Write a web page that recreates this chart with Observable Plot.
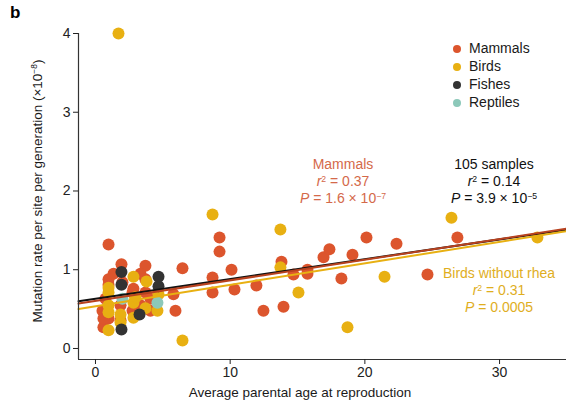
<!DOCTYPE html>
<html><head><meta charset="utf-8">
<script src="https://cdn.jsdelivr.net/npm/d3@7"></script>
<script src="https://cdn.jsdelivr.net/npm/@observablehq/plot@0.6"></script>
<style>
body{margin:0;background:#fff;font-family:"Liberation Sans",Arial,Helvetica,sans-serif;}
#wrap{position:relative;width:566px;height:402px;overflow:hidden;}
#wrap svg{position:absolute;left:0;top:0;}
.ov{position:absolute;white-space:nowrap;color:#1a1a1a;font-size:14px;line-height:17px;}
.ann{text-align:center;transform:translateX(-50%);}
.sup{font-size:0.62em;vertical-align:0.5em;line-height:0;}
.leg div{height:18px;line-height:18px;}
.leg span.d{display:inline-block;width:8px;height:8px;border-radius:50%;margin-right:8px;vertical-align:-0px;}
</style></head><body><div id="wrap"></div>
<script>
// ---- data ----
const groups = ["Mammals", "Birds", "Fishes", "Reptiles"];
const groupColors = ["#DC552D", "#E8B012", "#333333", "#8CC8B9"];

const mammalAge = [0.97,1.93,3.71,3.34,1.34,0.97,2.00,3.71,2.82,2.75,3.71,4.08,0.74,1.86,3.34,2.75,4.08,0.97,1.86,0.59,0.52,5.79,5.94,6.46,0.97,0.59,
  9.21,9.21,10.10,8.69,8.69,10.32,11.95,12.47,13.96,13.81,14.70,15.74,15.74,16.93,17.37,18.26,19.08,20.12,22.35,26.87,24.65];
const mammalRate = [1.32,1.07,1.05,0.95,0.95,0.88,0.84,0.88,0.76,0.71,0.71,0.63,0.63,0.55,0.55,0.48,0.48,0.38,0.36,0.27,0.48,0.69,0.48,1.02,0.81,0.38,
  1.41,1.23,1.00,0.90,0.71,0.75,0.80,0.48,0.53,1.10,0.94,1.00,0.95,1.16,1.26,0.89,1.19,1.41,1.33,1.41,0.94];

const birdAge = [2.82,3.79,0.97,0.97,2.82,2.97,0.97,0.97,1.86,0.97,4.68,3.71,4.60,2.82,1.86,
  1.71,8.69,13.73,13.73,15.07,18.71,21.46,26.43,32.81,6.46];
const birdRate = [0.91,0.85,0.77,0.71,0.58,0.65,0.55,0.46,0.43,0.23,0.69,0.51,0.48,0.39,0.33,
  4.00,1.70,1.51,1.03,0.71,0.27,0.91,1.66,1.41,0.10];

const fishAge = [1.93,1.93,4.68,4.68,3.27,1.93];
const fishRate = [0.97,0.81,0.91,0.79,0.43,0.24];

const reptileAge = [2.00,4.60];
const reptileRate = [0.63,0.58];

// regression lines (end points)
const fitNames = ["105 samples", "Mammals", "Birds without rhea"];
const fitAge = [-1.26, 34.97];
const fitAllRate = [0.60, 1.51];
const fitMammalRate = [0.57, 1.52];
const fitBirdRate = [0.50, 1.49];

const xTicks = [0, 10, 20, 30];
const yTicks = [0, 1, 2, 3, 4];
const xDomain = [-1.26, 34.97];
const yDomain = [-0.14, 4.0];

// ---- build tables ----
const ages = [mammalAge, birdAge, fishAge, reptileAge];
const rates = [mammalRate, birdRate, fishRate, reptileRate];
const points = [];
groups.forEach((g, i) => ages[i].forEach((a, j) => points.push({group: g, age: a, rate: rates[i][j]})));
const fitRates = [fitAllRate, fitMammalRate, fitBirdRate];
const fitColors = ["#111111", "#B8421F", "#E8B012"];
const fits = [];
fitNames.forEach((n, i) => fitAge.forEach((a, j) => fits.push({name: n, age: a, rate: fitRates[i][j]})));

const plot = Plot.plot({
  width: 566, height: 402,
  marginLeft: 78, marginRight: 0, marginTop: 33, marginBottom: 43,
  style: {fontFamily: '"Liberation Sans", Arial, Helvetica, sans-serif', fontSize: "14px", color: "#222", background: "#fff"},
  x: {domain: xDomain, label: null},
  y: {domain: yDomain, label: null},
  color: {domain: groups, range: groupColors},
  marks: [
    Plot.dot(points, {x: "age", y: "rate", fill: "group", r: 6, stroke: "none"}),
    ...fitNames.map((n, i) => Plot.line(fits.filter(d => d.name === n), {x: "age", y: "rate", stroke: fitColors[i], strokeWidth: 2})),
    Plot.ruleX([xDomain[0]], {y1: yDomain[0], y2: yTicks[yTicks.length - 1], stroke: "#333", strokeWidth: 1.2}),
    Plot.ruleY([yDomain[0]], {x1: xDomain[0], x2: xDomain[1], stroke: "#333", strokeWidth: 1.2}),
    Plot.axisY({ticks: yTicks, tickSize: 5, tickPadding: 3, label: null, tickFormat: d => String(d)}),
    Plot.axisX({ticks: xTicks, tickSize: 5, tickPadding: 3, label: null, tickFormat: d => String(d)})
  ]
});
const wrap = document.getElementById("wrap");
wrap.appendChild(plot);

// ---- overlays: panel letter, axis titles, legend, annotations ----
function add(html, style, cls) {
  const d = document.createElement("div");
  d.className = "ov " + (cls || "");
  d.innerHTML = html;
  Object.assign(d.style, style);
  wrap.appendChild(d);
  return d;
}
const sup = s => `<span class="sup">${s}</span>`;
add("b", {left: "10px", top: "4px", fontWeight: "bold", fontSize: "17px", color: "#000"});
add("Average parental age at reproduction", {left: "300px", top: "384px", fontSize: "13.5px"}, "ann");
add("Mutation rate per site per generation (×10" + sup("−8") + ")",
  {left: "37px", top: "191px", fontSize: "13.5px", transform: "translate(-50%,-50%) rotate(-90deg)"});

const leg = add(groups.map((g, i) => `<div><span class="d" style="background:${groupColors[i]}"></span>${g}</div>`).join(""),
  {left: "453px", top: "39px", fontSize: "14px"}, "leg");

add(`${fitNames[1]}<br><i>r</i>${sup("2")} = 0.37<br><i>P</i> = 1.6 × 10${sup("−7")}`,
  {left: "343px", top: "156px", color: "#D4694A"}, "ann");
add(`${fitNames[0]}<br><i>r</i>${sup("2")} = 0.14<br><i>P</i> = 3.9 × 10${sup("−5")}`,
  {left: "494px", top: "156px", color: "#111"}, "ann");
add(`${fitNames[2]}<br><i>r</i>${sup("2")} = 0.31<br><i>P</i> = 0.0005`,
  {left: "499px", top: "265px", color: "#E0AE1E"}, "ann");
</script>
</body></html>
